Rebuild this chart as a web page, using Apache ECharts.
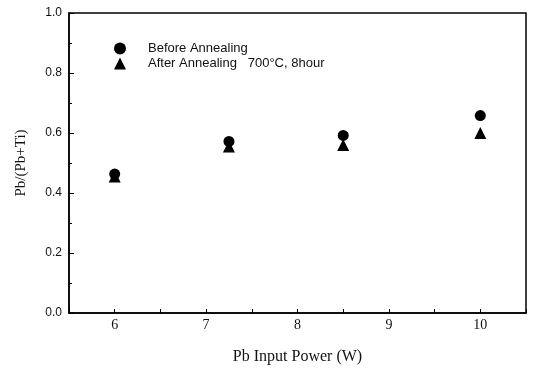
<!DOCTYPE html>
<html>
<head>
<meta charset="utf-8">
<script src="https://cdn.jsdelivr.net/npm/echarts@6/dist/echarts.min.js"></script>
<style>html,body{margin:0;padding:0;background:#fff}#c{width:535px;height:372px}</style>
</head>
<body>
<div id="c"></div>
<script>
var powers = [6, 7.25, 8.5, 10];
var beforeVals = [0.463, 0.572, 0.592, 0.658];
var afterVals = [0.455, 0.555, 0.560, 0.600];
var seriesNames = ['Before Annealing', 'After Annealing   700\u00B0C, 8hour'];
var xName = 'Pb Input Power (W)';
var yName = 'Pb/(Pb+Ti)';

function pairs(xs, ys) { return xs.map(function (x, i) { return [x, ys[i]]; }); }

var chart = echarts.init(document.getElementById('c'));
chart.setOption({
  backgroundColor: '#fff',
  animation: false,
  grid: { left: 69, right: 9, top: 13, bottom: 59, show: true, borderColor: '#000', borderWidth: 1.5, containLabel: false },
  legend: {
    orient: 'vertical', left: 109, top: 37, itemGap: 2,
    itemWidth: 12, itemHeight: 12,
    textStyle: { fontFamily: 'Liberation Sans', fontSize: 13, color: '#111', padding: [0, 0, 0, 17] },
    data: [{ name: seriesNames[0], icon: 'circle' }, { name: seriesNames[1], icon: 'triangle' }]
  },
  xAxis: {
    type: 'value', min: 5.5, max: 10.5, interval: 0.5,
    name: xName, nameLocation: 'middle', nameGap: 36,
    nameTextStyle: { fontFamily: 'Liberation Serif', fontSize: 16, color: '#111' },
    axisLine: { show: true, lineStyle: { color: '#000', width: 1.5 } },
    axisTick: { show: true, inside: true, length: 4, lineStyle: { color: '#000' } },
    axisLabel: { fontFamily: 'Liberation Serif', fontSize: 14, color: '#111', margin: 5,
      formatter: function (v) { return Math.abs(v - Math.round(v)) < 1e-9 ? String(Math.round(v)) : ''; } },
    splitLine: { show: false }
  },
  yAxis: {
    type: 'value', min: 0, max: 1, interval: 0.2,
    name: yName, nameLocation: 'middle', nameGap: 40,
    nameTextStyle: { fontFamily: 'Liberation Serif', fontSize: 15, color: '#111' },
    axisLine: { show: true, lineStyle: { color: '#000', width: 1.5 } },
    axisTick: { show: true, inside: true, length: 5, lineStyle: { color: '#000' } },
    minorTick: { show: true, splitNumber: 2, length: 3, lineStyle: { color: '#000' } },
    axisLabel: { fontFamily: 'Liberation Sans', fontSize: 12, color: '#111', margin: 7,
      formatter: function (v) { return v.toFixed(1); } },
    splitLine: { show: false }
  },
  series: [
    { name: seriesNames[0], type: 'scatter', symbol: 'circle', symbolSize: 11,
      itemStyle: { color: '#000', opacity: 1 }, data: pairs(powers, beforeVals), z: 3 },
    { name: seriesNames[1], type: 'scatter', symbol: 'triangle', symbolSize: 12,
      itemStyle: { color: '#000', opacity: 1 }, data: pairs(powers, afterVals), z: 2 }
  ]
});
</script>
</body>
</html>
